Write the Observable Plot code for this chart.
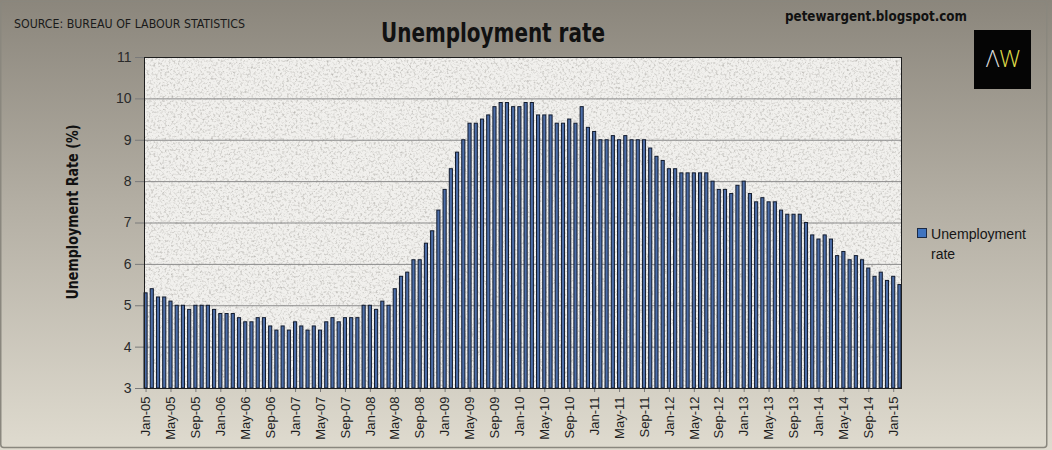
<!DOCTYPE html>
<html>
<head>
<meta charset="utf-8">
<script src="https://cdn.jsdelivr.net/npm/d3@7"></script>
<script src="https://cdn.jsdelivr.net/npm/@observablehq/plot@0.6"></script>
<style>
html, body { margin: 0; padding: 0; }
#chart {
  width: 1052px; height: 450px; position: relative; overflow: hidden;
  background: linear-gradient(to bottom, #8b867c 0%, #b3aea3 45%, #dfdbcf 100%);
}
</style>
</head>
<body>
<div id="chart"></div>
<script>
// ---- data ----
const monthNames = ["Jan","Feb","Mar","Apr","May","Jun","Jul","Aug","Sep","Oct","Nov","Dec"];
const yearCodes = ["05","06","07","08","09","10","11","12","13","14","15"];
const rate2005 = [5.3, 5.4, 5.2, 5.2, 5.1, 5.0, 5.0, 4.9, 5.0, 5.0, 5.0, 4.9];
const rate2006 = [4.8, 4.8, 4.8, 4.7, 4.6, 4.6, 4.7, 4.7, 4.5, 4.4, 4.5, 4.4];
const rate2007 = [4.6, 4.5, 4.4, 4.5, 4.4, 4.6, 4.7, 4.6, 4.7, 4.7, 4.7, 5.0];
const rate2008 = [5.0, 4.9, 5.1, 5.0, 5.4, 5.7, 5.8, 6.1, 6.1, 6.5, 6.8, 7.3];
const rate2009 = [7.8, 8.3, 8.7, 9.0, 9.4, 9.4, 9.5, 9.6, 9.8, 9.9, 9.9, 9.8];
const rate2010 = [9.8, 9.9, 9.9, 9.6, 9.6, 9.6, 9.4, 9.4, 9.5, 9.4, 9.8, 9.3];
const rate2011 = [9.2, 9.0, 9.0, 9.1, 9.0, 9.1, 9.0, 9.0, 9.0, 8.8, 8.6, 8.5];
const rate2012 = [8.3, 8.3, 8.2, 8.2, 8.2, 8.2, 8.2, 8.0, 7.8, 7.8, 7.7, 7.9];
const rate2013 = [8.0, 7.7, 7.5, 7.6, 7.5, 7.5, 7.3, 7.2, 7.2, 7.2, 7.0, 6.7];
const rate2014 = [6.6, 6.7, 6.6, 6.2, 6.3, 6.1, 6.2, 6.1, 5.9, 5.7, 5.8, 5.6];
const rate2015 = [5.7, 5.5];
const xTickLabels = ["Jan-05","May-05","Sep-05","Jan-06","May-06","Sep-06","Jan-07","May-07","Sep-07",
  "Jan-08","May-08","Sep-08","Jan-09","May-09","Sep-09","Jan-10","May-10","Sep-10","Jan-11","May-11",
  "Sep-11","Jan-12","May-12","Sep-12","Jan-13","May-13","Sep-13","Jan-14","May-14","Sep-14","Jan-15"];
const yTicks = [3, 4, 5, 6, 7, 8, 9, 10, 11];
const seriesName = "Unemployment rate";

// ---- table built from the arrays ----
const yearly = [rate2005, rate2006, rate2007, rate2008, rate2009, rate2010, rate2011, rate2012, rate2013, rate2014, rate2015];
const data = [];
yearly.forEach((vals, yi) => vals.forEach((v, mi) => data.push({month: `${monthNames[mi]}-${yearCodes[yi]}`, rate: v})));
const months = data.map(d => d.month);
const yMin = yTicks[0], yMax = yTicks[yTicks.length - 1];

const chart = Plot.plot({
  width: 1052,
  height: 450,
  marginLeft: 144,
  marginRight: 151,
  marginTop: 57,
  marginBottom: 62,
  style: {background: "transparent", fontFamily: "'Liberation Sans', Arial, sans-serif", fontSize: "13px", color: "#222", overflow: "visible"},
  x: {type: "band", domain: months, paddingInner: 0.5, paddingOuter: 0, round: false,
      ticks: xTickLabels, tickRotate: -90, tickSize: 4, tickPadding: 4, label: null},
  y: {domain: [yMin, yMax], ticks: yTicks, tickSize: 9, tickPadding: 4, label: null},
  marks: [
    Plot.frame({fill: "#f1f0ed"}),
    Plot.ruleY(yTicks, {stroke: "#8a8a8a", strokeWidth: 1}),
    Plot.barY(data, {x: "month", y1: yMin, y2: "rate", fill: "#4d6ea8", stroke: "#111a2c", strokeWidth: 1}),
    Plot.frame({stroke: "#1e1e1e", strokeWidth: 1})
  ]
});

document.getElementById("chart").appendChild(chart);
const svg = d3.select(chart);

// texture for the plot area
const defs = svg.insert("defs", ":first-child");
const f = defs.append("filter").attr("id", "granite").attr("x", 0).attr("y", 0).attr("width", 1).attr("height", 1)
  .attr("color-interpolation-filters", "sRGB");
f.append("feTurbulence").attr("type", "fractalNoise").attr("baseFrequency", 0.45).attr("numOctaves", 3).attr("seed", 7).attr("result", "noise");
f.append("feColorMatrix").attr("in", "noise").attr("type", "matrix")
  .attr("values", "0 0 0 0 0.66  0 0 0 0 0.65  0 0 0 0 0.63  1.7 0 0 0 -0.82").attr("result", "speck");
f.append("feComposite").attr("in", "speck").attr("in2", "SourceGraphic").attr("operator", "in").attr("result", "clipped");
const fm = f.append("feMerge");
fm.append("feMergeNode").attr("in", "SourceGraphic");
fm.append("feMergeNode").attr("in", "clipped");
const frames = chart.querySelectorAll('[aria-label="frame"]');
if (frames.length) frames[0].setAttribute("filter", "url(#granite)");

// axis styling
svg.selectAll('[aria-label="y-axis tick"], [aria-label="x-axis tick"]').attr("stroke", "#7a7a7a");
svg.selectAll('[aria-label="y-axis tick label"]').attr("font-size", 14).attr("fill", "#2a2a2a");
svg.selectAll('[aria-label="x-axis tick label"]').attr("font-size", 13).attr("fill", "#1e1e1e");

// outer border
svg.append("rect").attr("x", 0.75).attr("y", 1.5).attr("width", 1046).attr("height", 446)
  .attr("rx", 3).attr("fill", "none").attr("stroke", "#8a877e").attr("stroke-width", 1.5);

// texts
const narrow = "'Liberation Sans Narrow', 'DejaVu Sans Condensed', 'Liberation Sans', Arial, sans-serif";
svg.append("text").text("Unemployment rate")
  .attr("x", 381).attr("y", 42).attr("text-anchor", "start").attr("font-family", narrow).attr("font-weight", "bold").attr("font-size", 27)
  .attr("fill", "#111").attr("textLength", 224).attr("lengthAdjust", "spacingAndGlyphs");
svg.append("text").text("SOURCE: BUREAU OF LABOUR STATISTICS")
  .attr("x", 14).attr("y", 28).attr("text-anchor", "start").attr("font-family", narrow).attr("font-size", 12.5)
  .attr("fill", "#1a1a1a").attr("textLength", 231).attr("lengthAdjust", "spacingAndGlyphs");
svg.append("text").text("petewargent.blogspot.com")
  .attr("x", 785).attr("y", 21).attr("text-anchor", "start").attr("font-family", narrow).attr("font-weight", "bold").attr("font-size", 14.5)
  .attr("fill", "#111").attr("textLength", 182).attr("lengthAdjust", "spacingAndGlyphs");
svg.append("text").text("Unemployment Rate (%)")
  .attr("transform", "translate(78,212) rotate(-90)").attr("text-anchor", "middle")
  .attr("font-family", narrow).attr("font-weight", "bold").attr("font-size", 15.5)
  .attr("fill", "#111").attr("textLength", 175).attr("lengthAdjust", "spacingAndGlyphs");

// legend
svg.append("rect").attr("x", 917.5).attr("y", 228.5).attr("width", 9).attr("height", 9)
  .attr("fill", "#3f74c0").attr("stroke", "#1c2a44").attr("stroke-width", 1);
const words = seriesName.split(" ");
svg.append("text").text(words[0]).attr("x", 931).attr("y", 239).attr("text-anchor", "start")
  .attr("font-family", "'Liberation Sans', Arial, sans-serif").attr("font-size", 14).attr("fill", "#151515")
  .attr("textLength", 95).attr("lengthAdjust", "spacingAndGlyphs");
svg.append("text").text(words[1]).attr("x", 931).attr("y", 259).attr("text-anchor", "start")
  .attr("font-family", "'Liberation Sans', Arial, sans-serif").attr("font-size", 14).attr("fill", "#151515");

// logo
svg.append("rect").attr("x", 974).attr("y", 30).attr("width", 57).attr("height", 59).attr("fill", "#050505");
const logo = svg.append("text").attr("x", 1003).attr("y", 67).attr("text-anchor", "middle")
  .attr("font-family", "'Open Sans', 'Liberation Sans', sans-serif").attr("font-weight", 300).attr("font-size", 23);
logo.append("tspan").text("Λ").attr("fill", "#dcdcdc");
logo.append("tspan").text("W").attr("fill", "#e6e04c");
</script>
</body>
</html>
